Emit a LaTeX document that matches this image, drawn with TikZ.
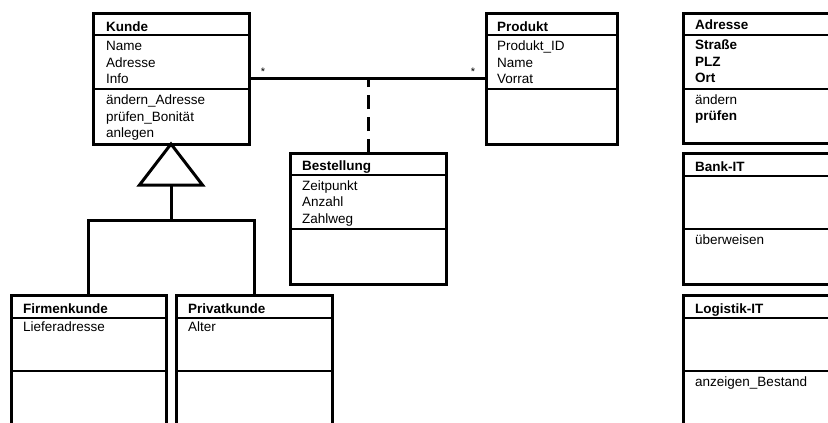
\documentclass[tikz,border=0pt]{standalone}
\usepackage{fontspec}
\setmainfont{Liberation Sans}
\usetikzlibrary{calc}
\begin{document}
\begin{tikzpicture}[x=1pt,y=-1pt,
  box/.style={draw, line width=3pt, rectangle, inner sep=0pt, outer sep=0pt,
              anchor=north west, fill=white},
  sep/.style={line width=2pt},
  lbl/.style={anchor=base west, inner sep=0pt, font=\fontsize{13.5}{16.5}\selectfont},
  hdr/.style={anchor=base west, inner sep=0pt, font=\fontsize{13.5}{16.5}\selectfont\bfseries},
  mult/.style={anchor=base, inner sep=0pt, font=\fontsize{11}{12}\selectfont},
  link/.style={line width=3pt, line join=miter},
]
% class box: name, left, top, width, height, header rule offset, attribute rule offset
\newcommand{\classbox}[7]{%
  \node[box, minimum width=#4pt, minimum height=#5pt] (#1) at (#2,#3) {};
  \draw[sep] (#2,#3+#6) -- ++(#4,0);
  \draw[sep] (#2,#3+#7) -- ++(#4,0);
}
\useasboundingbox (0,0) rectangle (828,423);
\clip (0,0) rectangle (828,423);

% junction points of the association and generalisation links
\coordinate (assoc) at (368,78.5);
\coordinate (tribase) at (171,185);
\coordinate (fork) at (171,220);

% ---------- Kunde ----------
\classbox{kunde}{93}{13}{156}{131}{22}{76}
\node[hdr] (kunde-h)  at (106,31.5)  {Kunde};
\node[lbl] (kunde-a1) at (106,50.5)  {Name};
\node[lbl] (kunde-a2) at (106,67)    {Adresse};
\node[lbl] (kunde-a3) at (106,83.5)  {Info};
\node[lbl] (kunde-o1) at (106,104.5) {ändern\_Adresse};
\node[lbl] (kunde-o2) at (106,121)   {prüfen\_Bonität};
\node[lbl] (kunde-o3) at (106,137.5) {anlegen};

% ---------- Produkt ----------
\classbox{produkt}{486}{13}{131}{131}{22}{76}
\node[hdr] (produkt-h)  at (497,31.5) {Produkt};
\node[lbl] (produkt-a1) at (497,50.5) {Produkt\_ID};
\node[lbl] (produkt-a2) at (497,67)   {Name};
\node[lbl] (produkt-a3) at (497,83.5) {Vorrat};

% ---------- Bestellung ----------
\classbox{bestellung}{290}{153}{156}{131}{22}{76}
\node[hdr] (bestellung-h)  at (302,170)   {Bestellung};
\node[lbl] (bestellung-a1) at (302,190)   {Zeitpunkt};
\node[lbl] (bestellung-a2) at (302,206.5) {Anzahl};
\node[lbl] (bestellung-a3) at (302,223)   {Zahlweg};

% ---------- Firmenkunde / Privatkunde ----------
\classbox{firmenkunde}{11}{295}{155}{130}{23}{76}
\node[hdr] (firmenkunde-h)  at (23,313.3) {Firmenkunde};
\node[lbl] (firmenkunde-a1) at (23,331.7) {Lieferadresse};

\classbox{privatkunde}{176}{295}{156}{130}{23}{76}
\node[hdr] (privatkunde-h)  at (188,313.3) {Privatkunde};
\node[lbl] (privatkunde-a1) at (188,331.7) {Alter};

% ---------- Adresse ----------
\classbox{adresse}{683}{13}{156}{130}{22}{76}
\node[hdr] (adresse-h)  at (695,29.5)  {Adresse};
\node[hdr] (adresse-a1) at (695,49.5)  {Straße};
\node[hdr] (adresse-a2) at (695,66)    {PLZ};
\node[hdr] (adresse-a3) at (695,82.5)  {Ort};
\node[lbl] (adresse-o1) at (695,104)   {ändern};
\node[hdr] (adresse-o2) at (695,120.5) {prüfen};

% ---------- Bank-IT ----------
\classbox{bankit}{683}{153}{156}{131}{23}{76}
\node[hdr] (bankit-h)  at (695,171.5) {Bank-IT};
\node[lbl] (bankit-o1) at (695,244)   {überweisen};

% ---------- Logistik-IT ----------
\classbox{logistikit}{683}{295}{156}{130}{23}{76}
\node[hdr] (logistikit-h)  at (695,313.3) {Logistik-IT};
\node[lbl] (logistikit-o1) at (695,386.7) {anzeigen\_Bestand};

% association Kunde -- Produkt with association class Bestellung
\draw[link] (kunde.east |- assoc) -- (produkt.west |- assoc);
\draw[link, dash pattern=on 14pt off 8pt] (bestellung.north) -- (assoc);
\node[mult] (mult-kunde)   at (263,75.5) {*};
\node[mult] (mult-produkt) at (473,75.5) {*};

% generalisation Firmenkunde/Privatkunde -> Kunde
\draw[link, fill=white] (kunde.south) -- ($(tribase)+(-31.5,0)$) -- ($(tribase)+(31.5,0)$) -- cycle;
\draw[link] (tribase) -- (fork);
\draw[link] (firmenkunde.north) |- (fork) -| (privatkunde.north);
\end{tikzpicture}
\end{document}
